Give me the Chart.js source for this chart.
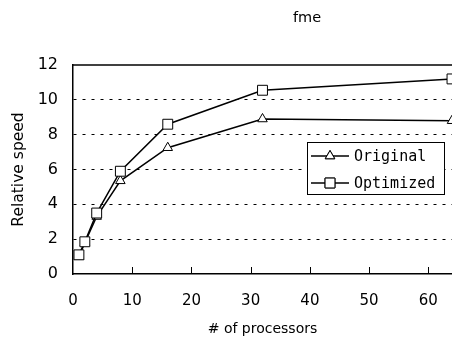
<!DOCTYPE html>
<html>
<head>
<meta charset="utf-8">
<script src="https://cdn.jsdelivr.net/npm/chart.js@4/dist/chart.umd.min.js"></script>
<style>
  html, body { margin: 0; padding: 0; background: #fff; overflow: hidden; }
  #wrap { width: 460px; height: 340px; }
</style>
</head>
<body>
<div id="wrap"><canvas id="chart"></canvas></div>
<script>
const processors = [1, 2, 4, 8, 16, 32, 64];
const originalSpeed = [1.0, 1.8, 3.3, 5.35, 7.25, 8.9, 8.8];
const optimizedSpeed = [1.1, 1.85, 3.5, 5.9, 8.6, 10.55, 11.2];
const xTickValues = [0, 10, 20, 30, 40, 50, 60];
const chartTitle = "fme";
const seriesNames = ["Original", "Optimized"];

const toPoints = (vals) => vals.map((v, i) => ({ x: processors[i], y: v }));

// frame top line, inside x ticks, title and boxed legend
const extras = {
  id: "extras",
  afterDraw(chart) {
    const { ctx, chartArea } = chart;
    const xs = chart.scales.x;
    ctx.save();
    ctx.strokeStyle = "#000";
    ctx.lineWidth = 1.5;
    ctx.beginPath();
    ctx.moveTo(chartArea.left, chartArea.top);
    ctx.lineTo(chartArea.right + 10, chartArea.top);
    ctx.stroke();

    ctx.lineWidth = 1;
    xs.ticks.forEach((t) => {
      if (t.value === 0) return;
      const px = Math.round(xs.getPixelForValue(t.value)) + 0.5;
      ctx.beginPath();
      ctx.moveTo(px, chartArea.bottom);
      ctx.lineTo(px, chartArea.bottom - 7);
      ctx.stroke();
    });

    ctx.fillStyle = "#000";
    ctx.font = "14.5px 'DejaVu Sans'";
    ctx.textAlign = "center";
    ctx.textBaseline = "middle";
    ctx.fillText(chartTitle, 307, 18);

    // legend box
    const bx = 307, by = 142, bw = 137, bh = 52;
    ctx.fillStyle = "#fff";
    ctx.fillRect(bx, by, bw, bh);
    ctx.strokeStyle = "#000";
    ctx.lineWidth = 1;
    ctx.strokeRect(bx + 0.5, by + 0.5, bw, bh);
    ctx.font = "15px 'DejaVu Sans Mono'";
    ctx.textAlign = "left";
    chart.data.datasets.forEach((ds, i) => {
      const ly = 156 + i * 27;
      ctx.lineWidth = 1.5;
      ctx.beginPath();
      ctx.moveTo(311, ly);
      ctx.lineTo(349, ly);
      ctx.stroke();
      ctx.lineWidth = 1;
      Chart.helpers.drawPoint(ctx, {
        pointStyle: ds.pointStyle,
        radius: ds.pointRadius,
        borderWidth: 1,
        rotation: 0
      }, 330, ly);
      ctx.fillStyle = "#fff";
      ctx.fill();
      ctx.stroke();
      ctx.fillStyle = "#000";
      ctx.fillText(ds.label, 354, ly + 1);
    });
    ctx.restore();
  }
};

new Chart(document.getElementById("chart"), {
  type: "line",
  data: {
    datasets: [
      {
        label: seriesNames[0],
        data: toPoints(originalSpeed),
        borderColor: "#000",
        borderWidth: 1.5,
        pointStyle: "triangle",
        pointRadius: 5.5,
        pointBorderWidth: 1,
        pointBackgroundColor: "#fff",
        pointBorderColor: "#000",
        order: 2
      },
      {
        label: seriesNames[1],
        data: toPoints(optimizedSpeed),
        borderColor: "#000",
        borderWidth: 1.5,
        pointStyle: "rect",
        pointRadius: 7,
        pointBorderWidth: 1,
        pointBackgroundColor: "#fff",
        pointBorderColor: "#000",
        order: 1
      }
    ]
  },
  options: {
    responsive: true,
    maintainAspectRatio: false,
    animation: false,
    layout: { padding: { top: 65, right: 3, left: 0, bottom: 0 } },
    plugins: { legend: { display: false }, tooltip: { enabled: false }, title: { display: false } },
    scales: {
      x: {
        type: "linear",
        min: 0,
        max: 64,
        afterBuildTicks: (s) => { s.ticks = xTickValues.map((v) => ({ value: v })); },
        afterFit: (s) => { s.height = 66; },
        ticks: { color: "#000", padding: 18, autoSkip: false, maxRotation: 0, font: { family: "DejaVu Sans", size: 15 } },
        grid: { drawOnChartArea: false, drawTicks: false },
        border: { color: "#000", width: 1.5 },
        title: {
          display: true,
          text: "# of processors",
          color: "#000",
          font: { family: "DejaVu Sans", size: 14 },
          padding: { top: 0, bottom: 2 }
        }
      },
      y: {
        min: 0,
        max: 12,
        afterFit: (s) => { s.width = 73; },
        ticks: { stepSize: 2, color: "#000", padding: 15, font: { family: "DejaVu Sans", size: 16 } },
        grid: {
          drawTicks: false,
          color: (c) => (c.tick && (c.tick.value === 0 || c.tick.value === 12) ? "rgba(0,0,0,0)" : "#000"),
          lineWidth: 1
        },
        border: { color: "#000", width: 1.5, dash: [3, 6] },
        title: {
          display: true,
          text: "Relative speed",
          color: "#000",
          font: { family: "DejaVu Sans", size: 15.5 },
          padding: { top: 10, bottom: 10 }
        }
      }
    }
  },
  plugins: [extras]
});
</script>
</body>
</html>
